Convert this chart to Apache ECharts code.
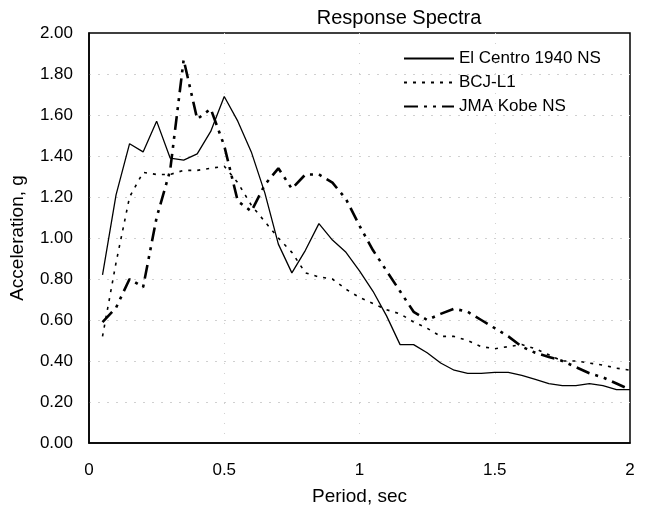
<!DOCTYPE html>
<html>
<head>
<meta charset="utf-8">
<script src="https://cdn.jsdelivr.net/npm/echarts@6/dist/echarts.min.js"></script>
<style>html,body{margin:0;padding:0;background:#fff;}#c{width:654px;height:512px;}</style>
</head>
<body>
<div id="c"></div>
<script>
var periods = [0.05,0.10,0.15,0.20,0.25,0.30,0.35,0.40,0.45,0.50,0.55,0.60,0.65,0.70,0.75,0.80,0.85,0.90,0.95,1.00,
               1.05,1.10,1.15,1.20,1.25,1.30,1.35,1.40,1.45,1.50,1.55,1.60,1.65,1.70,1.75,1.80,1.85,1.90,1.95,2.00];
var elCentro = [0.82,1.21,1.46,1.42,1.57,1.39,1.38,1.41,1.52,1.69,1.57,1.42,1.22,0.97,0.83,0.94,1.07,0.99,0.93,0.84,
                0.74,0.62,0.48,0.48,0.44,0.39,0.355,0.34,0.34,0.345,0.345,0.33,0.31,0.29,0.28,0.28,0.29,0.28,0.26,0.26];
var bcj = [0.52,0.88,1.20,1.32,1.31,1.31,1.33,1.33,1.34,1.35,1.27,1.16,1.08,1.00,0.93,0.83,0.81,0.80,0.75,0.71,
           0.68,0.65,0.63,0.59,0.56,0.52,0.52,0.50,0.47,0.46,0.47,0.48,0.46,0.43,0.40,0.40,0.39,0.38,0.365,0.355];
var jma = [0.59,0.66,0.80,0.76,1.10,1.33,1.87,1.58,1.63,1.45,1.18,1.13,1.26,1.34,1.24,1.31,1.31,1.27,1.19,1.06,
           0.94,0.84,0.74,0.64,0.60,0.63,0.655,0.64,0.60,0.56,0.52,0.47,0.44,0.42,0.40,0.37,0.34,0.32,0.29,0.26];
var seriesNames = ['El Centro 1940 NS','BCJ-L1','JMA Kobe NS'];
var xTicks = [0,0.5,1,1.5,2];

function pairs(ys){ return periods.map(function(p,i){ return [p, ys[i]]; }); }

var font = 'Liberation Sans, Arial, sans-serif';
var chart = echarts.init(document.getElementById('c'));
chart.setOption({
  animation: false,
  backgroundColor: '#fff',
  title: {
    text: 'Response Spectra', left: 394, top: 3, textAlign: 'center',
    textStyle: {fontFamily: font, fontSize: 20, fontWeight: 'normal', color: '#000'}
  },
  legend: {
    orient: 'vertical', left: 398, top: 45, itemWidth: 50, itemHeight: 10, itemGap: 7,
    data: seriesNames,
    itemStyle: {opacity: 0, borderWidth: 0},
    textStyle: {fontFamily: font, fontSize: 17, color: '#000'}
  },
  grid: {left: 88, right: 24, top: 33, bottom: 69, show: true, borderColor: '#000', borderWidth: 1.5},
  xAxis: {
    type: 'value', min: 0, max: 2, interval: 0.5,
    name: 'Period, sec', nameLocation: 'middle', nameGap: 44,
    nameTextStyle: {fontFamily: font, fontSize: 19, color: '#000'},
    axisLine: {show: true, lineStyle: {color: '#000', width: 1.5}},
    axisTick: {show: false},
    axisLabel: {fontFamily: font, fontSize: 17, color: '#000', margin: 19,
      formatter: function(v){ return xTicks.indexOf(v) >= 0 ? String(v) : ''; }},
    splitLine: {show: true, showMinLine: false, showMaxLine: false, lineStyle: {color: '#d0d0d0', type: [1,9], width: 1}}
  },
  yAxis: {
    type: 'value', min: 0, max: 2, interval: 0.2,
    name: 'Acceleration, g', nameLocation: 'middle', nameGap: 62, nameRotate: 90,
    nameTextStyle: {fontFamily: font, fontSize: 19, color: '#000'},
    axisLine: {show: true, lineStyle: {color: '#000', width: 1.5}},
    axisTick: {show: false},
    axisLabel: {fontFamily: font, fontSize: 17, color: '#000', margin: 16,
      formatter: function(v){ return v.toFixed(2); }},
    splitLine: {show: true, showMinLine: false, showMaxLine: false, lineStyle: {color: '#d0d0d0', type: [2,7], width: 1}}
  },
  series: [
    {name: seriesNames[0], type: 'line', data: pairs(elCentro), symbol: 'none',
     lineStyle: {color: '#000', width: 1.3, type: 'solid'}, itemStyle: {color: '#000'}},
    {name: seriesNames[1], type: 'line', data: pairs(bcj), symbol: 'none',
     lineStyle: {color: '#000', width: 1.6, type: [3,6]}, itemStyle: {color: '#000'}},
    {name: seriesNames[2], type: 'line', data: pairs(jma), symbol: 'none',
     lineStyle: {color: '#000', width: 2.6, type: [14,6,3,6,3,6]}, itemStyle: {color: '#000'}}
  ]
});
</script>
</body>
</html>
